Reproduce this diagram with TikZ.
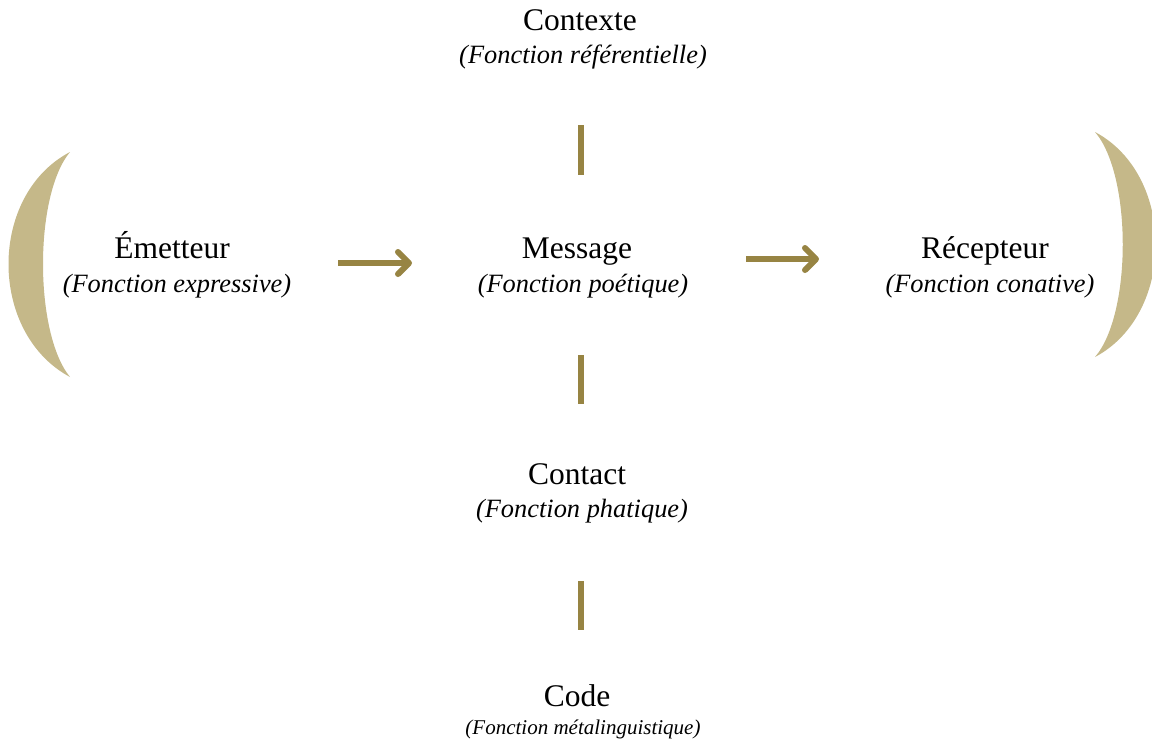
\documentclass[tikz,border=0pt]{standalone}
\usepackage{fontspec}
\setmainfont{Liberation Serif}
\usetikzlibrary{arrows.meta}
\definecolor{gold}{HTML}{978443}
\definecolor{paren}{HTML}{C5B889}
\tikzset{
  title/.style={anchor=base,inner sep=0pt,font=\fontsize{31.5}{36}\selectfont},
  sub/.style={anchor=base,inner sep=0pt,font=\fontsize{26.4}{30}\selectfont\itshape},
  subsmall/.style={anchor=base,inner sep=0pt,font=\fontsize{21}{24}\selectfont\itshape},
  bar/.style={draw=gold,line width=6pt},
  flow/.style={draw=gold,line width=6pt,-{Straight Barb[length=11pt,width=22pt,line cap=round,line join=round]}},
  crescent/.style={fill=paren,draw=none}
}
\begin{document}
\begin{tikzpicture}[x=1pt,y=-1pt]
\useasboundingbox (0,0) rectangle (1152,740);
% nodes
\node[title] (ctx) at (580,30) {Contexte};
\node[sub] (ctxs) at (583,63) {(Fonction référentielle)};
\node[title] (em) at (172,258) {Émetteur};
\node[sub] (ems) at (177,292) {(Fonction expressive)};
\node[title] (msg) at (577,258) {Message};
\node[sub] (msgs) at (583,292) {(Fonction poétique)};
\node[title] (rec) at (985,258) {Récepteur};
\node[sub] (recs) at (990,292) {(Fonction conative)};
\node[title] (con) at (577,484) {Contact};
\node[sub] (cons) at (582,517) {(Fonction phatique)};
\node[title] (cod) at (577,706) {Code};
\node[subsmall] (cods) at (583,734) {(Fonction métalinguistique)};
% bars
\coordinate (b1a) at (581,125); \coordinate (b1b) at (581,175);
\coordinate (b2a) at (581,355); \coordinate (b2b) at (581,404);
\coordinate (b3a) at (581,581); \coordinate (b3b) at (581,630);
\draw[bar] (b1a) -- (b1b);
\draw[bar] (b2a) -- (b2b);
\draw[bar] (b3a) -- (b3b);
% arrows
\coordinate (a1a) at (338,263); \coordinate (a1b) at (412,263);
\coordinate (a2a) at (746,259); \coordinate (a2b) at (819,259);
\draw[flow] (a1a) -- (a1b);
\draw[flow] (a2a) -- (a2b);
% crescents
\fill[crescent] (70,152) .. controls (-12,195) and (-12,333) .. (70,377)
  .. controls (34,333) and (34,195) .. (70,152) -- cycle;
\fill[crescent] (1095,132) .. controls (1176,175) and (1176,314) .. (1095,357)
  .. controls (1132,314) and (1132,175) .. (1095,132) -- cycle;
\end{tikzpicture}
\end{document}
